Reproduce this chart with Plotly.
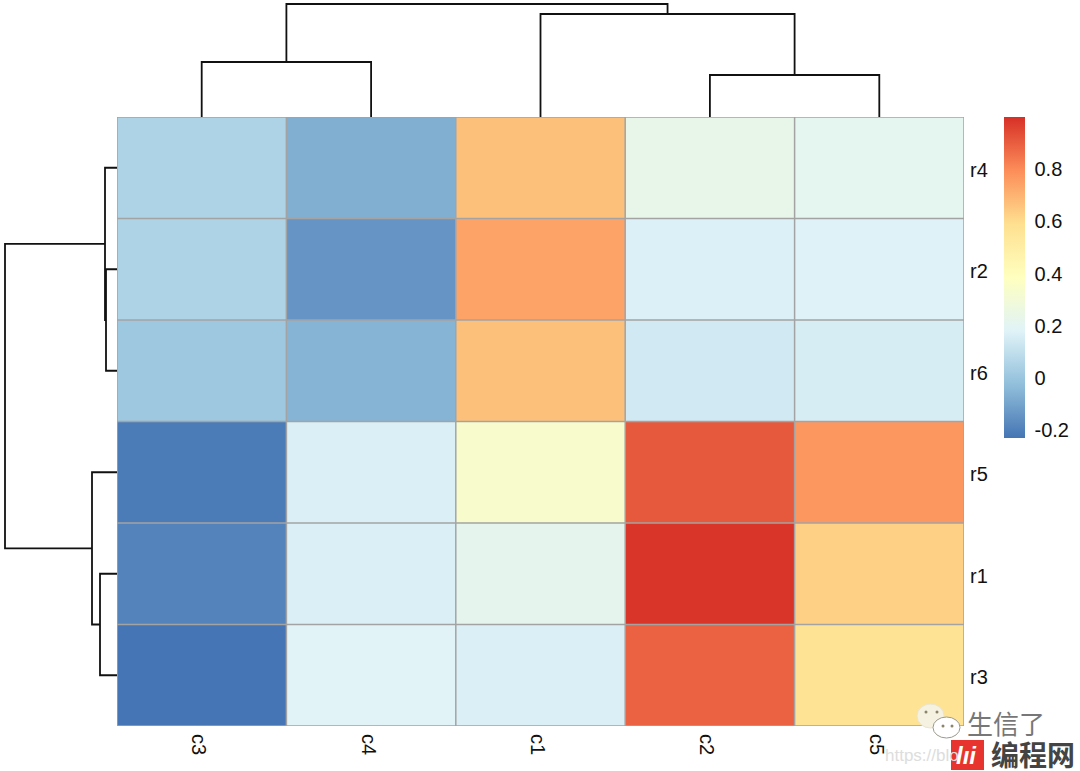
import plotly.graph_objects as go

W, H = 1080, 771

# leaf order as drawn
col_labels = ["c3", "c4", "c1", "c2", "c5"]
row_labels = ["r4", "r2", "r6", "r5", "r1", "r3"]

# values per row, in column order c3 c4 c1 c2 c5
r4 = [0.05, -0.07, 0.67, 0.23, 0.21]
r2 = [0.05, -0.14, 0.74, 0.17, 0.175]
r6 = [0.01, -0.055, 0.67, 0.14, 0.155]
r5 = [-0.21, 0.165, 0.34, 0.91, 0.77]
r1 = [-0.19, 0.165, 0.215, 0.99, 0.63]
r3 = [-0.23, 0.185, 0.165, 0.89, 0.57]
values = [r4, r2, r6, r5, r1, r3]

# dendrogram merges: (left, right, height)
col_merges = [("c3", "c4", 55), ("c2", "c5", 42), ("c1", "c2c5", 103), ("c3c4", "c1c2c5", 113)]
row_merges = [("r2", "r6", 11), ("r4", "r2r6", 12), ("r1", "r3", 17), ("r5", "r1r3", 25), ("r4r2r6", "r5r1r3", 112)]

palette = ["#4575B4", "#91BFDB", "#E0F3F8", "#FFFFBF", "#FEE090", "#FC8D59", "#D73027"]
cbar_ticks = [-0.2, 0, 0.2, 0.4, 0.6, 0.8]
cbar_text = ["-0.2", "0", "0.2", "0.4", "0.6", "0.8"]

FONT = "Liberation Sans"
GRID = "#a3a3a3"


def dendro_paths(labels, merges):
    """Turn merges into bracket paths, returns pos and height lists"""
    pos = {lab: i for i, lab in enumerate(labels)}
    hgt = {lab: 0 for lab in labels}
    ps, hs = [], []
    for a, b, h in merges:
        ps += [pos[a], pos[a], pos[b], pos[b], None]
        hs += [hgt[a], h, h, hgt[b], None]
        pos[a + b] = (pos[a] + pos[b]) / 2
        hgt[a + b] = h
    return ps, hs


fig = go.Figure()

n = len(palette) - 1
fig.add_trace(go.Heatmap(
    z=values,
    x=list(range(len(col_labels))),
    y=list(range(len(row_labels))),
    zmin=-0.23, zmax=1.0,
    colorscale=[[i / n, c] for i, c in enumerate(palette)],
    colorbar=dict(
        x=1004 / W, xanchor="left", xpad=0,
        y=1 - 117 / H, yanchor="top", ypad=0,
        len=321, lenmode="pixels",
        thickness=21, thicknessmode="pixels",
        outlinewidth=0,
        tickvals=cbar_ticks, ticktext=cbar_text,
        ticks="outside", ticklen=6, tickcolor="rgba(0,0,0,0)",
        tickfont=dict(family=FONT, size=20, color="#111111"),
    ),
))

cx, ch = dendro_paths(col_labels, col_merges)
fig.add_trace(go.Scatter(x=cx, y=ch, mode="lines", xaxis="x2", yaxis="y2", cliponaxis=False,
                         line=dict(color="#111111", width=1.8), hoverinfo="skip", showlegend=False))
ry, rh = dendro_paths(row_labels, row_merges)
fig.add_trace(go.Scatter(x=rh, y=ry, mode="lines", xaxis="x3", yaxis="y3", cliponaxis=False,
                         line=dict(color="#111111", width=1.8), hoverinfo="skip", showlegend=False))

x_dom = [117 / W, 964 / W]
y_dom = [1 - 726 / H, 1 - 117 / H]

fig.update_layout(
    width=W, height=H,
    margin=dict(l=0, r=0, t=0, b=0),
    paper_bgcolor="white",
    plot_bgcolor="white",
    showlegend=False,
    font=dict(family=FONT, size=20, color="#111111"),
    xaxis=dict(domain=x_dom, range=[-0.5, 4.5], tickvals=list(range(5)), ticktext=col_labels,
               tickangle=90, ticks="outside", ticklen=3, tickcolor="rgba(0,0,0,0)",
               ticklabelshift=-3,
               showgrid=False, zeroline=False, showline=False, automargin=False),
    yaxis=dict(domain=y_dom, range=[5.5, -0.5], tickvals=list(range(6)), ticktext=row_labels,
               side="right", ticks="outside", ticklen=1, tickcolor="rgba(0,0,0,0)",
               ticklabelshift=-2,
               showgrid=False, zeroline=False, showline=False, automargin=False),
    xaxis2=dict(domain=x_dom, range=[-0.5, 4.5], visible=False, anchor="y2"),
    yaxis2=dict(domain=[1 - 117 / H, 1], range=[0, 117], visible=False, anchor="x2"),
    xaxis3=dict(domain=[0, 117 / W], range=[117, 0], visible=False, anchor="y3"),
    yaxis3=dict(domain=y_dom, range=[5.5, -0.5], visible=False, anchor="x3"),
)

# cell borders on top of the heatmap
for i in range(len(col_labels) + 1):
    fig.add_shape(type="line", xref="x", yref="y", x0=i - 0.5, x1=i - 0.5, y0=-0.5, y1=5.5,
                  line=dict(color=GRID, width=1.5))
for j in range(len(row_labels) + 1):
    fig.add_shape(type="line", xref="x", yref="y", x0=-0.5, x1=4.5, y0=j - 0.5, y1=j - 0.5,
                  line=dict(color=GRID, width=1.5))


def px_shape(kind, x0, y0, x1, y1, **kw):
    fig.add_shape(type=kind, xref="paper", yref="paper", x0=x0 / W, x1=x1 / W,
                  y0=1 - y0 / H, y1=1 - y1 / H, layer="above", **kw)


def px_text(x, y, text, **kw):
    fig.add_annotation(xref="paper", yref="paper", x=x / W, y=1 - y / H, text=text,
                       showarrow=False, xanchor="left", yanchor="middle",
                       borderpad=0, **kw)


# watermark: wechat bubbles
px_shape("circle", 917, 704, 944, 728, fillcolor="#f6f2e2", line=dict(color="#e9e5d2", width=1))
px_shape("circle", 933, 717, 960, 738, fillcolor="white", line=dict(color="#9a9a90", width=1))
for ex, ey in [(926, 712), (937, 712), (943, 726), (952, 726)]:
    px_shape("circle", ex - 1.5, ey - 1.5, ex + 1.5, ey + 1.5, fillcolor="#8a8468", line=dict(width=0))

px_text(966, 722, "生信了", font=dict(family="Noto Sans CJK SC", size=26, color="#777777"))
px_text(884, 755, "https://blo", font=dict(family=FONT, size=17, color="#dddddd"))

# watermark: red logo and site name
px_shape("rect", 951, 740, 984, 770, fillcolor="#e8342e", line=dict(width=0))
px_text(955, 755, "<b><i>lıi</i></b>", font=dict(family=FONT, size=24, color="white"))
px_text(990, 754, "<b>编程网</b>", font=dict(family="Noto Sans CJK SC", size=28, color="#444444"))

fig.write_html("out.html", config=dict(displayModeBar=False),
               post_script="document.body.style.margin='0';document.body.style.overflow='hidden';")
